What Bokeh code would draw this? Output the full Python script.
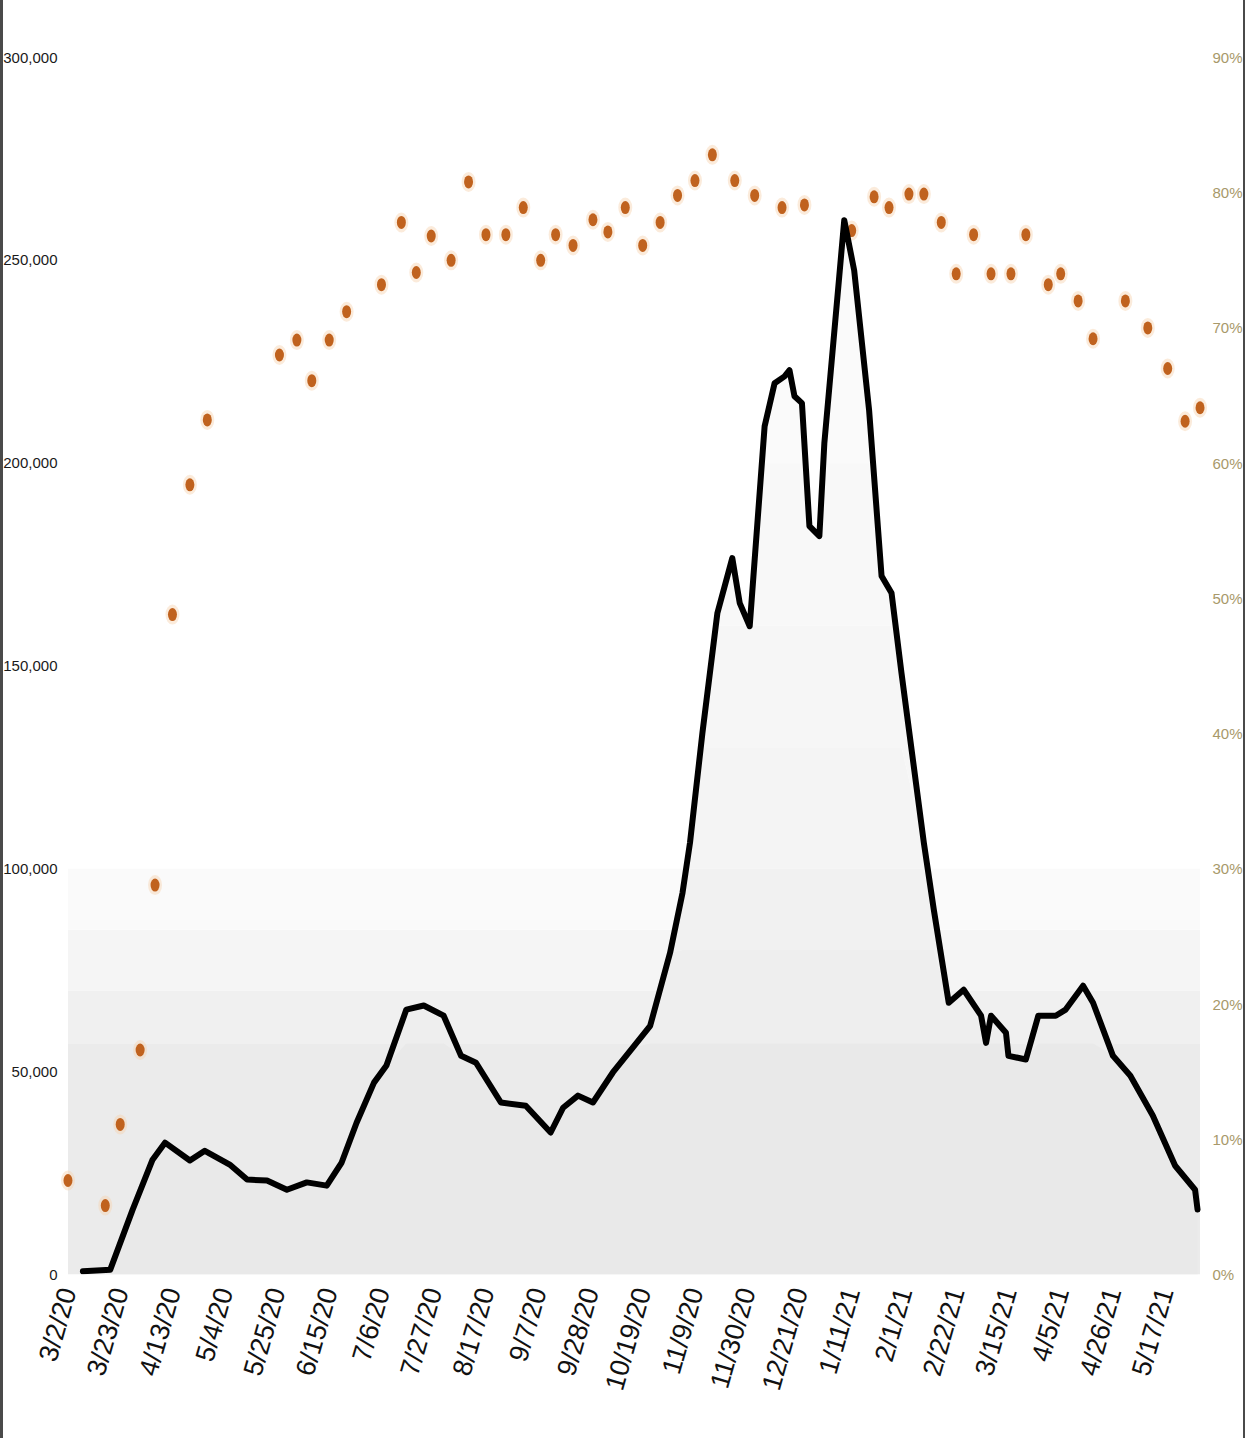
import numpy as np
import pandas as pd
from bokeh.plotting import figure
from bokeh.models import Range1d, LinearAxis, FixedTicker, NumeralTickFormatter, BoxAnnotation
from bokeh.embed import file_html
from bokeh.resources import INLINE

# ---- data ----
case_dates = ["2020-03-08", "2020-03-19", "2020-03-28", "2020-04-05", "2020-04-10", "2020-04-20",
              "2020-04-26", "2020-05-06", "2020-05-13", "2020-05-21", "2020-05-29", "2020-06-06",
              "2020-06-14", "2020-06-20", "2020-06-26", "2020-07-03", "2020-07-08", "2020-07-16",
              "2020-07-23", "2020-07-31", "2020-08-07", "2020-08-13", "2020-08-23", "2020-09-02",
              "2020-09-12", "2020-09-17", "2020-09-23", "2020-09-29", "2020-10-07", "2020-10-15",
              "2020-10-22", "2020-10-30", "2020-11-04", "2020-11-07", "2020-11-12", "2020-11-18",
              "2020-11-24", "2020-11-27", "2020-12-01", "2020-12-07", "2020-12-11", "2020-12-15",
              "2020-12-17", "2020-12-19", "2020-12-22", "2020-12-25", "2020-12-29", "2020-12-31",
              "2021-01-06", "2021-01-08", "2021-01-12", "2021-01-18", "2021-01-23", "2021-01-27",
              "2021-01-31", "2021-02-09", "2021-02-13", "2021-02-19", "2021-02-25", "2021-03-04",
              "2021-03-06", "2021-03-08", "2021-03-14", "2021-03-15", "2021-03-22", "2021-03-27",
              "2021-04-03", "2021-04-07", "2021-04-14", "2021-04-18", "2021-04-26", "2021-05-03",
              "2021-05-12", "2021-05-21", "2021-05-29", "2021-05-30"]
cases = [800, 1200, 16000, 28300, 32500, 28100, 30500, 27100, 23400, 23150, 20900, 22700,
         21900, 27600, 37400, 47300, 51500, 65300, 66300, 63800, 53900, 52200, 42400, 41600,
         35000, 41100, 44100, 42400, 49800, 55900, 61300, 79300, 94100, 106400, 133500, 163000,
         176600, 165500, 159800, 209100, 219700, 221400, 222900, 216500, 214800, 184500, 182000, 204900,
         246100, 259900, 247500, 213000, 172200, 168000, 148300, 106400, 89900, 67000, 70200, 63800,
         57100, 63800, 59600, 53900, 53000, 63800, 63800, 65300, 71200, 67000, 53900, 49000,
         39200, 26800, 20900, 16000]

pct_dates = ["2020-03-02", "2020-03-17", "2020-03-23", "2020-03-31", "2020-04-06", "2020-04-13",
             "2020-04-20", "2020-04-27", "2020-05-26", "2020-06-02", "2020-06-08", "2020-06-15",
             "2020-06-22", "2020-07-06", "2020-07-14", "2020-07-20", "2020-07-26", "2020-08-03",
             "2020-08-10", "2020-08-17", "2020-08-25", "2020-09-01", "2020-09-08", "2020-09-14",
             "2020-09-21", "2020-09-29", "2020-10-05", "2020-10-12", "2020-10-19", "2020-10-26",
             "2020-11-02", "2020-11-09", "2020-11-16", "2020-11-25", "2020-12-03", "2020-12-14",
             "2020-12-23", "2021-01-11", "2021-01-20", "2021-01-26", "2021-02-03", "2021-02-09",
             "2021-02-16", "2021-02-22", "2021-03-01", "2021-03-08", "2021-03-16", "2021-03-22",
             "2021-03-31", "2021-04-05", "2021-04-12", "2021-04-18", "2021-05-01", "2021-05-10",
             "2021-05-18", "2021-05-25", "2021-05-31"]
pct = [6.95, 5.1, 11.1, 16.6, 28.8, 48.8, 58.4, 63.2, 68.0, 69.1, 66.1, 69.1,
       71.2, 73.2, 77.8, 74.1, 76.8, 75.0, 80.8, 76.9, 76.9, 78.9, 75.0, 76.9,
       76.1, 78.0, 77.1, 78.9, 76.1, 77.8, 79.8, 80.9, 82.8, 80.9, 79.8, 78.9,
       79.1, 77.2, 79.7, 78.9, 79.9, 79.9, 77.8, 74.0, 76.9, 74.0, 74.0, 76.9,
       73.2, 74.0, 72.0, 69.2, 72.0, 70.0, 67.0, 63.1, 64.1]

x_tick_labels = ["3/2/20", "3/23/20", "4/13/20", "5/4/20", "5/25/20", "6/15/20", "7/6/20",
                 "7/27/20", "8/17/20", "9/7/20", "9/28/20", "10/19/20", "11/9/20", "11/30/20",
                 "12/21/20", "1/11/21", "2/1/21", "2/22/21", "3/15/21", "4/5/21", "4/26/21",
                 "5/17/21"]
left_ticks = [0, 50000, 100000, 150000, 200000, 250000, 300000]
right_ticks = [0, 10, 20, 30, 40, 50, 60, 70, 80, 90]

# ---- build ----
cx = pd.to_datetime(case_dates)
cy = np.array(cases, dtype=float)
px = pd.to_datetime(pct_dates)
py = np.array(pct, dtype=float) / 100.0
tick_dt = pd.to_datetime(x_tick_labels, format="%m/%d/%y")
tick_ms = [int(t.value // 10**6) for t in tick_dt]

FONT = "Liberation Sans"

p = figure(width=1245, height=1438, output_backend="svg", toolbar_location=None,
           x_axis_type="datetime",
           x_range=Range1d(pd.Timestamp("2020-02-28"), pd.Timestamp("2021-06-03")),
           y_range=Range1d(left_ticks[0], left_ticks[-1]),
           min_border_left=58, min_border_right=38, min_border_top=57, min_border_bottom=164)
p.extra_y_ranges = {"pct": Range1d(right_ticks[0] / 100.0, right_ticks[-1] / 100.0)}
p.outline_line_color = None
p.xgrid.visible = False
p.ygrid.visible = False
p.background_fill_color = "white"
p.border_fill_color = None
p.styles = {"box-shadow": "inset 3px 0 0 #4a4a4a, inset -2px 0 0 #4a4a4a",
            "background-color": "white"}

# soft grey band behind the lower part of the chart
x_left = min(cx.min(), px.min())
x_right = max(cx.max(), px.max())
band_levels = [0, 57000, 70000, 85000, 100000]
band_colors = ["#ebebeb", "#f0f0f0", "#f5f5f5", "#fafafa"]
for lo, hi, c in zip(band_levels[:-1], band_levels[1:], band_colors):
    p.add_layout(BoxAnnotation(bottom=lo, top=hi, left=x_left, right=x_right,
                               fill_color=c, fill_alpha=1.0, line_color=None, level="underlay"))

# grey area under the curve, fading upward
area_levels = [0, 57000, 80000, 100000, 130000, 160000, 200000, 300000]
area_colors = ["#e9e9e9", "#eeeeee", "#f1f1f1", "#f4f4f4", "#f6f6f6", "#f8f8f8", "#fafafa"]
for lo, hi, c in zip(area_levels[:-1], area_levels[1:], area_colors):
    p.varea(x=cx, y1=np.minimum(cy, lo), y2=np.minimum(cy, hi), fill_color=c, fill_alpha=1.0)

# orange dots (right axis)
p.ellipse(x=px, y=py, width=14, height=20, width_units="screen", height_units="screen",
          fill_color="#f6d2b0", fill_alpha=0.45, line_color=None, y_range_name="pct")
p.ellipse(x=px, y=py, width=9, height=13, width_units="screen", height_units="screen",
          fill_color="#c0621e", line_color=None, y_range_name="pct")

# black case line
p.line(x=cx, y=cy, line_color="black", line_width=6, line_join="round", line_cap="round")

def plain(axis):
    axis.axis_line_color = None
    axis.major_tick_line_color = None
    axis.minor_tick_line_color = None
    axis.major_tick_out = 0
    axis.major_tick_in = 0
    axis.minor_tick_out = 0
    axis.minor_tick_in = 0

# left axis
ya = p.yaxis[0]
plain(ya)
ya.ticker = FixedTicker(ticks=left_ticks)
ya.formatter = NumeralTickFormatter(format="0,0")
ya.major_label_standoff = 3
ya.major_label_text_font = FONT
ya.major_label_text_font_size = "15px"
ya.major_label_text_color = "#1a1a1a"

# right axis
ra = LinearAxis(y_range_name="pct", ticker=FixedTicker(ticks=[t / 100.0 for t in right_ticks]),
                formatter=NumeralTickFormatter(format="0%"))
plain(ra)
ra.major_label_standoff = 5
ra.major_label_text_font = FONT
ra.major_label_text_font_size = "15px"
ra.major_label_text_color = "#a8996a"
p.add_layout(ra, "right")

# bottom axis
xa = p.xaxis[0]
plain(xa)
xa.ticker = FixedTicker(ticks=tick_ms)
xa.major_label_overrides = {ms: lab for ms, lab in zip(tick_ms, x_tick_labels)}
xa.major_label_orientation = np.deg2rad(74)
xa.major_label_standoff = 14
xa.major_label_text_font = FONT
xa.major_label_text_font_size = "27px"
xa.major_label_text_color = "#111111"

open("out.html", "w").write(file_html(p, INLINE))
